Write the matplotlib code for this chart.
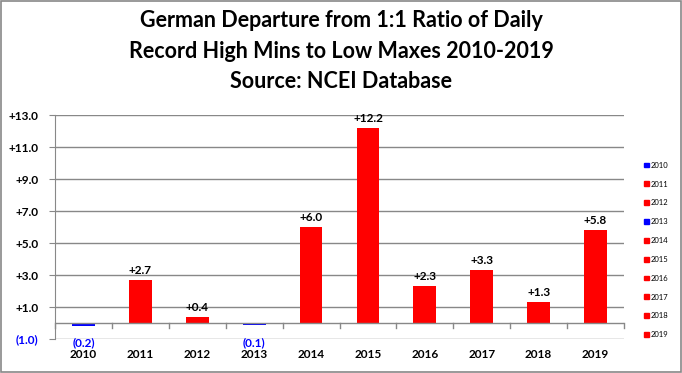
import matplotlib.pyplot as plt
from matplotlib.patches import Patch

# data
years = ['2010', '2011', '2012', '2013', '2014', '2015', '2016', '2017', '2018', '2019']
values = [-0.2, 2.7, 0.4, -0.1, 6.0, 12.2, 2.3, 3.3, 1.3, 5.8]
yticks = [-1, 1, 3, 5, 7, 9, 11, 13]

plt.rcParams['font.family'] = ['Lato', 'DejaVu Sans']


def fmt(v):
    return '(%.1f)' % abs(v) if v < 0 else '+%.1f' % v


colors = ['#0000ff' if v < 0 else '#ff0000' for v in values]

fig = plt.figure(figsize=(6.82, 3.73), dpi=100)
ax = fig.add_axes([55 / 682, 1 - 339 / 373, 569 / 682, 224 / 373])

x = range(len(years))
ax.bar(x, values, width=0.4, color=colors, zorder=3)

ax.set_xlim(-0.5, len(years) - 0.5)
ax.set_ylim(-1, 13)
ax.set_yticks(yticks)
ax.set_yticklabels([fmt(v) for v in yticks], fontsize=8.5, fontweight='bold')
for lbl, v in zip(ax.get_yticklabels(), yticks):
    if v < 0:
        lbl.set_color('#0000ff')
ax.yaxis.grid(True, color='#888888', lw=1, zorder=0)
ax.tick_params(axis='y', length=4, color='#888888', pad=8)
ax.tick_params(axis='x', length=0)
ax.set_xticks([])
for s in ['top', 'right', 'bottom']:
    ax.spines[s].set_visible(False)
ax.spines['left'].set_color('#888888')

# zero axis with ticks between categories
ax.axhline(0, color='#888888', lw=1, zorder=4)
for i in range(len(years) + 1):
    ax.plot([i - 0.5, i - 0.5], [0, -0.3], color='#888888', lw=1, clip_on=False, zorder=4)

# category labels under the plot
for i, yr in enumerate(years):
    ax.text(i, -1.6, yr, ha='center', va='top', fontsize=8.5, fontweight='bold')

# data labels
for i, v in enumerate(values):
    if v < 0:
        ax.text(i, -1.25, fmt(v), ha='center', va='center', fontsize=8.5,
                color='#0000ff', fontweight='bold')
    else:
        ax.text(i, v + 0.25, fmt(v), ha='center', va='bottom', fontsize=8.5,
                fontweight='bold')

fig.suptitle('German Departure from 1:1 Ratio of Daily\nRecord High Mins to Low Maxes 2010-2019\nSource: NCEI Database',
             y=0.972, fontsize=15.5, fontweight='bold', linespacing=1.55)

handles = [Patch(color=c) for c in colors]
fig.legend(handles, years, loc='center left', bbox_to_anchor=(641 / 682, 1 - 250 / 373),
           frameon=False, fontsize=5.5, handlelength=0.6, handleheight=0.6,
           handletextpad=0.3, labelspacing=1.55, borderaxespad=0)

fig.patches.append(plt.Rectangle((0.002, 0.003), 0.996, 0.994, transform=fig.transFigure,
                                 fill=False, edgecolor='#888888', lw=1.2))

plt.savefig('out.png', dpi=100)
